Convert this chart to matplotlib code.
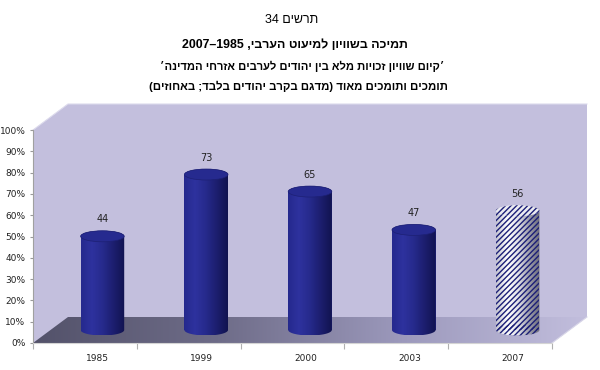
import re
import numpy as np
import matplotlib
matplotlib.use('Agg')
import matplotlib.pyplot as plt
import matplotlib.transforms as mtransforms
from matplotlib.patches import Polygon, Ellipse
from matplotlib.colors import LinearSegmentedColormap

# chart data
years = ['1985', '1999', '2000', '2003', '2007']
values = [44, 73, 65, 47, 56]
hatched = [False, False, False, False, True]
ytick_values = [0, 10, 20, 30, 40, 50, 60, 70, 80, 90, 100]

title_num = 'תרשים 34'
title_main = 'תמיכה בשוויון למיעוט הערבי, 1985–2007'
subtitle_1 = '׳קיום שוויון זכויות מלא בין יהודים לערבים אזרחי המדינה׳'
subtitle_2 = 'תומכים ותומכים מאוד (מדגם בקרב יהודים בלבד; באחוזים)'

# geometry in pixels (front plane of the box + depth of the 3d box)
W, H, DPI = 600, 370, 100
L, R, B, T = 33, 552, 27, 240
DX, DY = 35, 26

HEB = ['Liberation Sans', 'DejaVu Sans']


# matplotlib has no bidi support, so put hebrew lines in visual order by hand
def rtl(s):
    mirror = {'(': ')', ')': '('}
    out = []
    for p in reversed(re.findall(r'\d+|\D+', s)):
        if p.isdigit():
            out.append(p)
        else:
            out.append(''.join(mirror.get(c, c) for c in reversed(p)))
    return ''.join(out)


plt.rcParams['hatch.linewidth'] = 1.0

fig = plt.figure(figsize=(W / DPI, H / DPI), dpi=DPI)

# background: walls and floor of the 3d box
bg = fig.add_axes([0, 0, 1, 1], zorder=0)
wall = Polygon([(L, B), (L, T), (L + DX, T + DY), (R + DX, T + DY), (R + DX, B + DY), (R, B)],
               closed=True, fc='#c3bfdd', ec='none', zorder=1)
bg.add_patch(wall)
bg.plot([L, L + DX, R + DX], [T, T + DY, T + DY], color='#dcdaec', lw=0.8, zorder=1.5)
floor = Polygon([(L, B), (L + DX, B + DY), (R + DX, B + DY), (R, B)], closed=True, fc='none', ec='none')
bg.add_patch(floor)
floor_cmap = LinearSegmentedColormap.from_list('floor', ['#53526a', '#6e6c88', '#9c99bc', '#c2bedd'])
im = bg.imshow(np.linspace(0, 1, 256)[None, :], cmap=floor_cmap, extent=[L, R + DX, B, B + DY],
               aspect='auto', origin='lower', zorder=2)
im.set_clip_path(floor)
bg.plot([R, R + DX], [B, B + DY], color='#d8d6e8', lw=0.8, zorder=3)
bg.set_xlim(0, W)
bg.set_ylim(0, H)
bg.axis('off')

# main axes = front plane
ax = fig.add_axes([L / W, B / H, (R - L) / W, (T - B) / H], zorder=1)
ax.patch.set_visible(False)
mid = ax.transData + mtransforms.ScaledTranslation(DX / 2 / DPI, DY / 2 / DPI, fig.dpi_scale_trans)

bar_w = 0.42
ell_h = 11 / (T - B) * 100
cyl_cmap = LinearSegmentedColormap.from_list('cyl', ['#25298e', '#2e329e', '#262a8c', '#1c1e6e', '#111350'])
hatch_cmap = LinearSegmentedColormap.from_list('cylh', ['#c4c4d0', '#ffffff', '#e4e4ea', '#a0a0ae', '#6c6c7a'])
grad = np.linspace(0, 1, 128)[None, :]

for i, (v, h) in enumerate(zip(values, hatched)):
    # cylinder silhouette for the shading
    t1 = np.linspace(np.pi, 2 * np.pi, 40)
    t2 = np.linspace(0, np.pi, 40)
    xs = np.concatenate([i + bar_w / 2 * np.cos(t1), i + bar_w / 2 * np.cos(t2)])
    ys = np.concatenate([ell_h / 2 * np.sin(t1), v + ell_h / 2 * np.sin(t2)])
    sil = Polygon(np.column_stack([xs, ys]), closed=True, transform=mid, fc='none', ec='none')
    ax.add_patch(sil)
    ax.bar(i, v, width=bar_w, transform=mid, color='#23268a', clip_on=False, zorder=2)
    shade = ax.imshow(grad, cmap=hatch_cmap if h else cyl_cmap, aspect='auto', origin='lower',
                      extent=[i - bar_w / 2, i + bar_w / 2, -ell_h / 2, v + ell_h / 2],
                      transform=mid, zorder=3)
    shade.set_clip_path(sil)
    if h:
        ax.bar(i, v, width=bar_w, transform=mid, fc='none', ec='#1c1f78', hatch='//////',
               lw=0, clip_on=False, zorder=4)
        ax.add_patch(Ellipse((i, 0), bar_w, ell_h, transform=mid, fc='none', ec='#1c1f78',
                             hatch='//////', lw=0, zorder=4, clip_on=False))
        ax.add_patch(Ellipse((i, v), bar_w, ell_h, transform=mid, fc='#ececf2', ec='#1c1f78',
                             hatch='//////', lw=0, zorder=5, clip_on=False))
    else:
        ax.add_patch(Ellipse((i, v), bar_w, ell_h, transform=mid, fc='#262a8f', ec='#1d2074',
                             lw=0.5, zorder=5, clip_on=False))
    ax.text(i, v + ell_h / 2 + 3, str(v), transform=mid, ha='center', va='bottom',
            fontsize=7, color='#222222', family='DejaVu Sans', zorder=6)

ax.set_xlim(-0.5, len(years) - 0.5)
ax.set_ylim(0, 100)

ax.set_yticks(ytick_values)
ax.set_yticklabels([f'{t}%' for t in ytick_values])
ax.tick_params(axis='y', length=2.5, width=0.8, color='#9a9a9a', labelsize=6.5, pad=3, labelcolor='#222222')

ax.set_xticks(np.arange(len(years) + 1) - 0.5)
ax.set_xticklabels([])
ax.set_xticks(np.arange(len(years)), minor=True)
ax.set_xticklabels(years, minor=True)
ax.tick_params(axis='x', which='major', length=4, width=0.8, color='#b0b0b0')
ax.tick_params(axis='x', which='minor', length=0, labelsize=6.5, pad=8, labelcolor='#222222')
shift = mtransforms.ScaledTranslation(13 / DPI, 0, fig.dpi_scale_trans)
for lbl in ax.xaxis.get_minorticklabels():
    lbl.set_transform(lbl.get_transform() + shift)

for s in ['top', 'right']:
    ax.spines[s].set_visible(False)
ax.spines['left'].set_color('#a0a0a0')
ax.spines['left'].set_linewidth(0.8)
ax.spines['bottom'].set_color('#d4d4d4')
ax.spines['bottom'].set_linewidth(0.8)

# titles
fig.text(292 / W, 1 - 20 / H, rtl(title_num), ha='center', va='center', fontsize=9, family=HEB)
fig.text(295 / W, 1 - 45 / H, rtl(title_main), ha='center', va='center', fontsize=8.9, weight='bold', family=HEB)
fig.text(302 / W, 1 - 66 / H, rtl(subtitle_1), ha='center', va='center', fontsize=8.0, weight='bold', family=HEB)
fig.text(298 / W, 1 - 86 / H, rtl(subtitle_2), ha='center', va='center', fontsize=8.2, weight='bold', family=HEB)

fig.savefig('out.png', dpi=DPI)
